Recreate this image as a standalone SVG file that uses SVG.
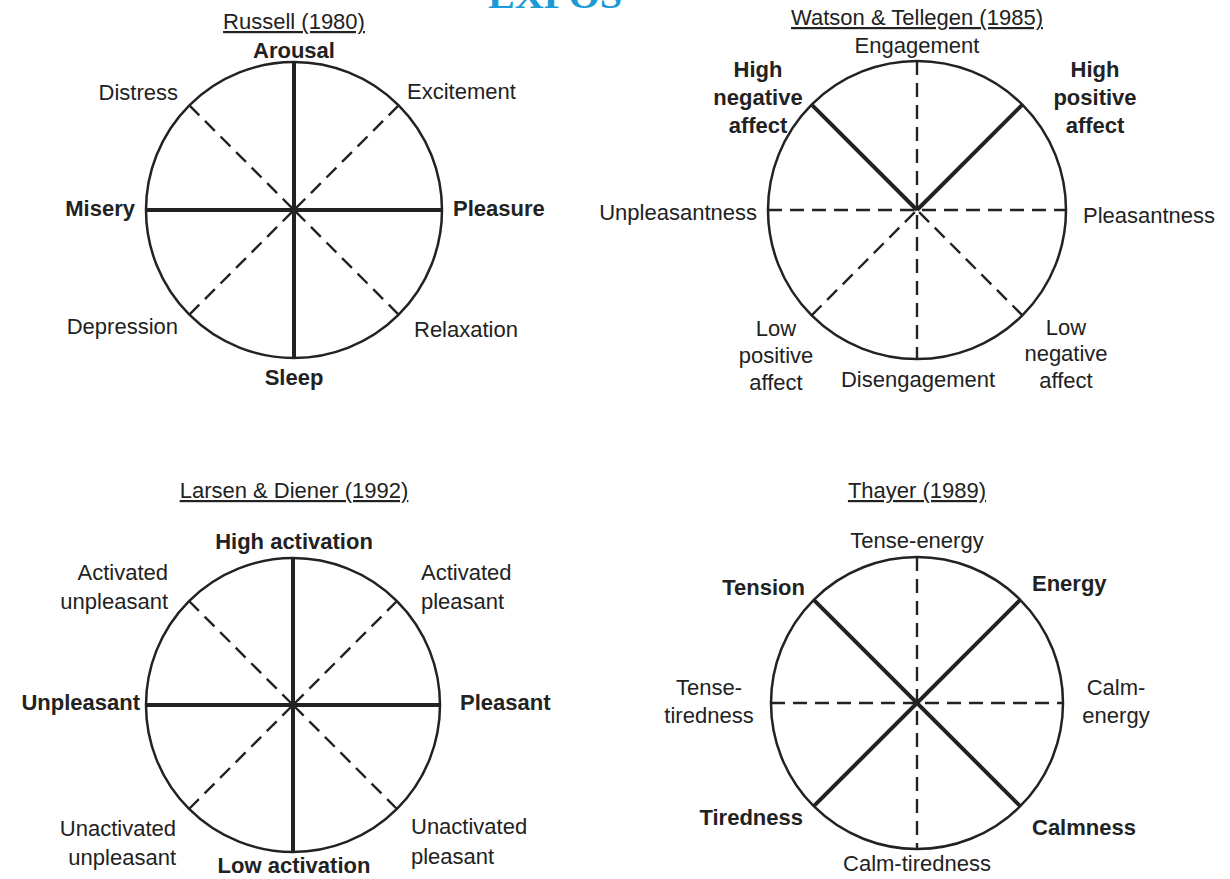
<svg xmlns="http://www.w3.org/2000/svg" width="1230" height="879" viewBox="0 0 1230 879">
<style>
.circ{fill:none;stroke:#222;stroke-width:2.5}
.solid{stroke:#222;stroke-width:4;stroke-linecap:butt}
.dash{stroke:#222;stroke-width:2.4;stroke-dasharray:14 8;fill:none}
text{font-family:"Liberation Sans",Arial,sans-serif;font-size:22px;fill:#222}
.b{font-weight:bold}
.t{text-decoration:underline}
.m{text-anchor:middle}
.e{text-anchor:end}
</style>
<rect width="1230" height="879" fill="#fff"/>
<text x="555" y="8" class="m" style="font-family:'Liberation Serif',serif;font-weight:bold;font-size:36px;fill:#1b9ad6" textLength="134" lengthAdjust="spacingAndGlyphs">EXPOS</text>

<g id="connectors">
  <g id="russell-lines">
    <line class="dash" x1="189.4" y1="105.4" x2="294" y2="210"/>
    <line class="dash" x1="398.6" y1="105.4" x2="294" y2="210"/>
    <line class="dash" x1="189.4" y1="314.6" x2="294" y2="210"/>
    <line class="dash" x1="398.6" y1="314.6" x2="294" y2="210"/>
    <line class="solid" x1="146" y1="210" x2="442" y2="210"/>
    <line class="solid" x1="294" y1="62" x2="294" y2="358"/>
  </g>
  <g id="watson-lines">
    <line class="dash" x1="768" y1="210" x2="1066" y2="210"/>
    <line class="dash" x1="917" y1="61" x2="917" y2="359"/>
    <line class="dash" x1="811.6" y1="315.4" x2="917" y2="210"/>
    <line class="dash" x1="1022.4" y1="315.4" x2="917" y2="210"/>
    <line class="solid" x1="811.6" y1="104.6" x2="917" y2="210"/>
    <line class="solid" x1="1022.4" y1="104.6" x2="917" y2="210"/>
  </g>
  <g id="larsen-lines">
    <line class="dash" x1="189" y1="601" x2="293" y2="705"/>
    <line class="dash" x1="397" y1="601" x2="293" y2="705"/>
    <line class="dash" x1="189" y1="809" x2="293" y2="705"/>
    <line class="dash" x1="397" y1="809" x2="293" y2="705"/>
    <line class="solid" x1="146" y1="705" x2="440" y2="705"/>
    <line class="solid" x1="293" y1="558" x2="293" y2="852"/>
  </g>
  <g id="thayer-lines">
    <line class="dash" x1="771" y1="703" x2="1063" y2="703"/>
    <line class="dash" x1="917" y1="557" x2="917" y2="849"/>
    <line class="solid" x1="813.8" y1="599.8" x2="1020.2" y2="806.2"/>
    <line class="solid" x1="1020.2" y1="599.8" x2="813.8" y2="806.2"/>
  </g>
</g>

<g id="russell">
  <circle class="circ" cx="294" cy="210" r="148"/>
  <text x="294" y="29" class="m t">Russell (1980)</text>
  <text x="294" y="58" class="m b">Arousal</text>
  <text x="178" y="100" class="e">Distress</text>
  <text x="407" y="99">Excitement</text>
  <text x="135" y="216" class="e b">Misery</text>
  <text x="453" y="216" class="b">Pleasure</text>
  <text x="178" y="334" class="e">Depression</text>
  <text x="414" y="337">Relaxation</text>
  <text x="294" y="385" class="m b">Sleep</text>
</g>

<g id="watson">
  <circle class="circ" cx="917" cy="210" r="149"/>
  <text x="917" y="25" class="m t">Watson &amp; Tellegen (1985)</text>
  <text x="917" y="53" class="m">Engagement</text>
  <text x="758" y="77" class="m b">High</text>
  <text x="758" y="105" class="m b">negative</text>
  <text x="758" y="133" class="m b">affect</text>
  <text x="1095" y="77" class="m b">High</text>
  <text x="1095" y="105" class="m b">positive</text>
  <text x="1095" y="133" class="m b">affect</text>
  <text x="757" y="220" class="e">Unpleasantness</text>
  <text x="1083" y="223">Pleasantness</text>
  <text x="776" y="336" class="m">Low</text>
  <text x="776" y="363" class="m">positive</text>
  <text x="776" y="390" class="m">affect</text>
  <text x="918" y="387" class="m">Disengagement</text>
  <text x="1066" y="335" class="m">Low</text>
  <text x="1066" y="361" class="m">negative</text>
  <text x="1066" y="388" class="m">affect</text>
</g>

<g id="larsen">
  <circle class="circ" cx="293" cy="705" r="147"/>
  <text x="294" y="498" class="m t">Larsen &amp; Diener (1992)</text>
  <text x="294" y="549" class="m b">High activation</text>
  <text x="168" y="580" class="e">Activated</text>
  <text x="168" y="609" class="e">unpleasant</text>
  <text x="421" y="580">Activated</text>
  <text x="421" y="609">pleasant</text>
  <text x="140" y="710" class="e b">Unpleasant</text>
  <text x="460" y="710" class="b">Pleasant</text>
  <text x="176" y="836" class="e">Unactivated</text>
  <text x="176" y="865" class="e">unpleasant</text>
  <text x="411" y="834">Unactivated</text>
  <text x="411" y="864">pleasant</text>
  <text x="294" y="873" class="m b">Low activation</text>
</g>

<g id="thayer">
  <circle class="circ" cx="917" cy="703" r="146"/>
  <text x="917" y="498" class="m t">Thayer (1989)</text>
  <text x="917" y="548" class="m">Tense-energy</text>
  <text x="805" y="595" class="e b">Tension</text>
  <text x="1032" y="591" class="b">Energy</text>
  <text x="709" y="695" class="m">Tense-</text>
  <text x="709" y="723" class="m">tiredness</text>
  <text x="1116" y="695" class="m">Calm-</text>
  <text x="1116" y="723" class="m">energy</text>
  <text x="803" y="825" class="e b">Tiredness</text>
  <text x="1032" y="835" class="b">Calmness</text>
  <text x="917" y="871" class="m">Calm-tiredness</text>
</g>
</svg>
